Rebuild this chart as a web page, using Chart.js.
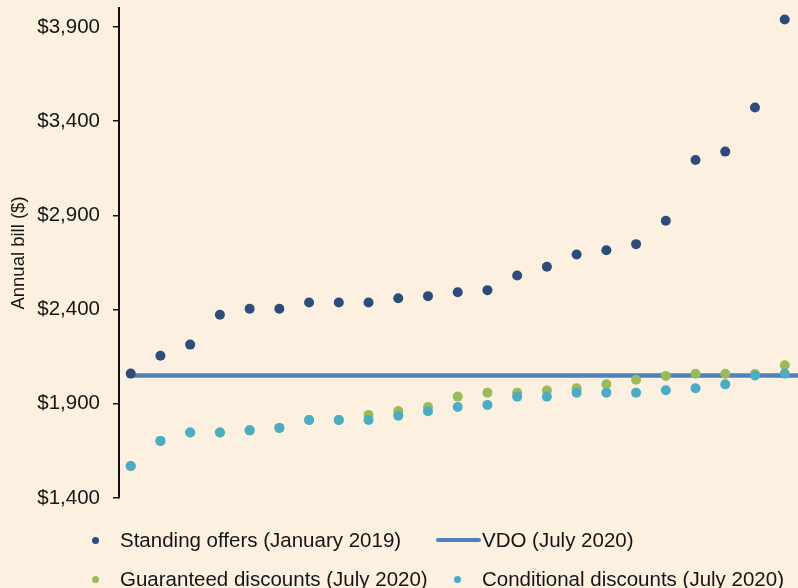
<!DOCTYPE html>
<html>
<head>
<meta charset="utf-8">
<script src="https://cdn.jsdelivr.net/npm/chart.js@4.4.1/dist/chart.umd.min.js"></script>
<style>
  html, body { margin: 0; padding: 0; background: #fcf0e0; }
  #wrap { position: relative; width: 798px; height: 588px; }
  #legend { position: absolute; left: 0; top: 0; width: 798px; height: 588px; pointer-events: none;
            font-family: "Liberation Sans", Arial, sans-serif; font-size: 20.5px; color: #151515; }
  .lg-mark { position: absolute; }
  .lg-text { position: absolute; white-space: nowrap; line-height: 24px; }
</style>
</head>
<body>
<div id="wrap">
  <canvas id="billChart" width="798" height="588"></canvas>
  <div id="legend"></div>
</div>
<script>
// offers ranked from cheapest to dearest
const offerRank = [1, 2, 3, 4, 5, 6, 7, 8, 9, 10, 11, 12, 13, 14, 15, 16, 17, 18, 19, 20, 21, 22, 23];
const standingOffers = [2060, 2155, 2214, 2372, 2404, 2404, 2437, 2437, 2437, 2460, 2471, 2492, 2503,
                        2581, 2627, 2692, 2715, 2747, 2871, 3193, 3238, 3472, 3939];
const guaranteedDiscounts = [1570, 1703, 1748, 1748, 1759, 1772, 1814, 1814, 1841, 1862, 1883, 1938, 1959,
                             1959, 1970, 1982, 2003, 2027, 2048, 2059, 2059, 2058, 2104];
const conditionalDiscounts = [1570, 1703, 1748, 1748, 1759, 1772, 1814, 1814, 1814, 1837, 1860, 1883, 1894,
                              1938, 1938, 1959, 1959, 1959, 1972, 1982, 2003, 2050, 2060];
const vdoPrice = 2050;
const yTicks = [1400, 1900, 2400, 2900, 3400, 3900];

const X_MIN = 0.606, X_MAX = 23.447;
const FONT = "'Liberation Sans', Arial, sans-serif";
Chart.defaults.font.family = FONT;

const pts = (vals) => vals.map((v, i) => ({ x: offerRank[i], y: v }));

const bgPlugin = {
    id: "bg",
    beforeDraw(chart) {
        const c = chart.ctx;
        c.save();
        c.fillStyle = "#fcf0e0";
        c.fillRect(0, 0, chart.width, chart.height);
        c.restore();
    },
};

const ctx = document.getElementById("billChart");
const chart = new Chart(ctx, {
    type: "scatter",
    data: {
        datasets: [
            {
                label: "Standing offers (January 2019)",
                data: pts(standingOffers),
                backgroundColor: "#2c4d7b",
                borderWidth: 0,
                pointRadius: 5,
                order: 2,
                legendAt: [95, 540],
            },
            {
                type: "line",
                label: "VDO (July 2020)",
                data: [{ x: offerRank[0], y: vdoPrice }, { x: X_MAX, y: vdoPrice }],
                borderColor: "#4f81bd",
                borderWidth: 4.5,
                pointRadius: 0,
                order: 3,
                legendAt: [436, 540],
            },
            {
                label: "Guaranteed discounts (July 2020)",
                data: pts(guaranteedDiscounts),
                backgroundColor: "#9bbb59",
                borderWidth: 0,
                pointRadius: 5,
                order: 1,
                legendAt: [95, 579],
            },
            {
                label: "Conditional discounts (July 2020)",
                data: pts(conditionalDiscounts),
                backgroundColor: "#4bacc6",
                borderWidth: 0,
                pointRadius: 5,
                order: 0,
                legendAt: [457, 579],
            },
        ],
    },
    options: {
        responsive: false,
        animation: false,
        layout: { autoPadding: false, padding: { top: 8, right: 0, bottom: 90, left: 0 } },
        plugins: {
            legend: { display: false },
            tooltip: { enabled: false },
        },
        scales: {
            x: { type: "linear", min: X_MIN, max: X_MAX, display: false },
            y: {
                min: 1400,
                max: 4000,
                afterBuildTicks: (s) => { s.ticks = yTicks.map((v) => ({ value: v })); },
                afterFit: (s) => {
                    s.width = 119;
                    s.paddingTop = 0;
                    s.paddingBottom = 0;
                },
                border: { display: true, color: "#111", width: 2 },
                grid: { drawOnChartArea: false, drawTicks: true, tickLength: 6, color: "#111", lineWidth: 1.5 },
                ticks: {
                    padding: 13,
                    color: "#151515",
                    font: { size: 20.5 },
                    callback: (v) => "$" + v.toLocaleString("en-US"),
                },
                title: {
                    display: true,
                    text: "Annual bill ($)",
                    color: "#151515",
                    font: { size: 18.5 },
                    padding: { top: 8, bottom: 0 },
                },
            },
        },
    },
    plugins: [bgPlugin],
});

// legend laid out as in the original: two rows, fixed columns
const legend = document.getElementById("legend");
chart.data.datasets.forEach((ds) => {
    const [cx, cy] = ds.legendAt;
    const mark = document.createElement("div");
    mark.className = "lg-mark";
    let textLeft;
    if (ds.type === "line") {
        Object.assign(mark.style, { left: cx + "px", top: (cy - 2) + "px", width: "45px", height: "4px",
            background: ds.borderColor, borderRadius: "2px" });
        textLeft = cx + 46;
    } else {
        Object.assign(mark.style, { left: (cx - 3.5) + "px", top: (cy - 3.5) + "px", width: "7px", height: "7px",
            background: ds.backgroundColor, borderRadius: "50%" });
        textLeft = cx + 25;
    }
    const txt = document.createElement("div");
    txt.className = "lg-text";
    txt.textContent = ds.label;
    Object.assign(txt.style, { left: textLeft + "px", top: (cy - 12) + "px" });
    legend.appendChild(mark);
    legend.appendChild(txt);
});
</script>
</body>
</html>
